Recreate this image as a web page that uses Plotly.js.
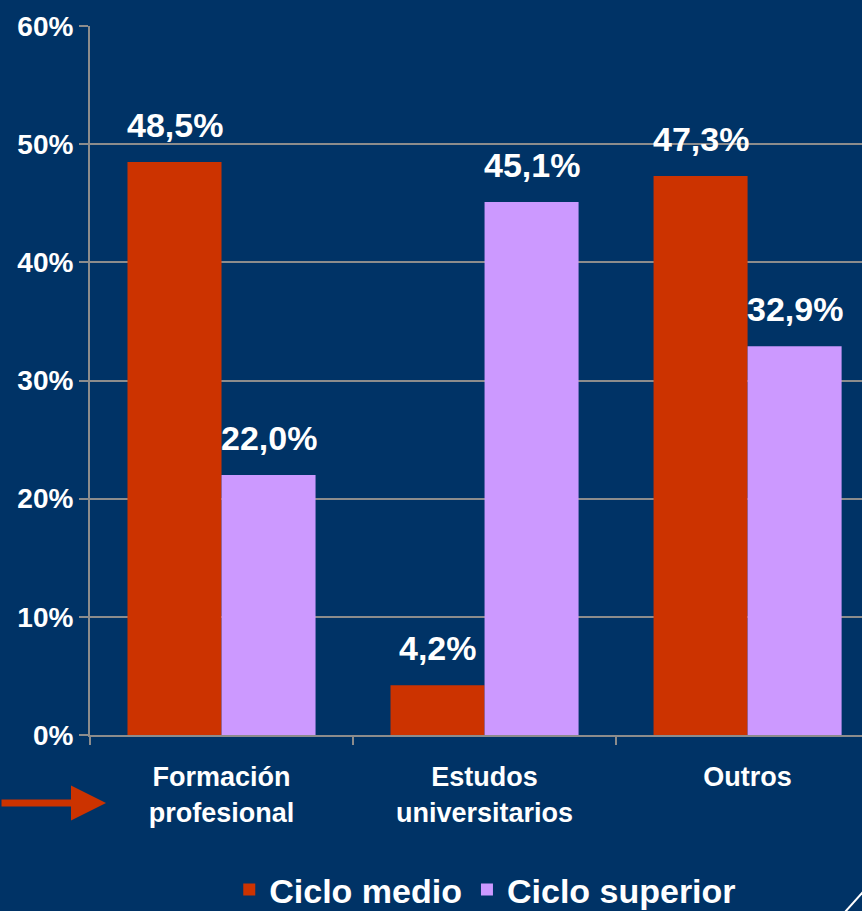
<!DOCTYPE html>
<html>
<head>
<meta charset="utf-8">
<script src="https://cdn.plot.ly/plotly-3.0.1.min.js"></script>
<style>html,body{margin:0;padding:0;background:#003366;overflow:hidden;}</style>
</head>
<body>
<div id="chart" style="width:862px;height:911px;"></div>
<script>
const categories = ["Formación<br>profesional", "Estudos<br>universitarios", "Outros"];
const cicloMedio = [48.5, 4.2, 47.3];
const cicloSuperior = [22.0, 45.1, 32.9];
const seriesNames = ["Ciclo medio", "Ciclo superior"];
const yTickVals = [0, 10, 20, 30, 40, 50, 60];
const yTickText = ["0%", "10%", "20%", "30%", "40%", "50%", "60%"];

const FONT = "Liberation Sans, Arial, sans-serif";
const RED = "#CC3300", LAV = "#CC99FF", BG = "#003366", GRID = "#8C8C8C";
const BARGAP = 0.285;
const off = (1 - BARGAP) / 4;
const fmt = v => v.toFixed(1).replace('.', ',') + '%';

const traces = [
  {type: 'bar', name: seriesNames[0], x: categories, y: cicloMedio, marker: {color: RED}, hoverinfo: 'none'},
  {type: 'bar', name: seriesNames[1], x: categories, y: cicloSuperior, marker: {color: LAV}, hoverinfo: 'none'}
];

const annotations = [];
[cicloMedio, cicloSuperior].forEach((arr, s) => {
  arr.forEach((v, i) => {
    annotations.push({
      x: i + (s === 0 ? -off : off), y: v, xref: 'x', yref: 'y',
      text: fmt(v), showarrow: false, yanchor: 'middle', yshift: 37,
      font: {family: FONT, size: 34, color: '#FFFFFF', weight: 'bold'}
    });
  });
});
// red arrow pointing at the first category label
annotations.push({
  xref: 'paper', yref: 'paper', x: (106 - 90) / 772, y: (735 - 803) / 709,
  ax: -114, ay: 0, text: '', showarrow: true, arrowhead: 2, arrowsize: 1.0,
  arrowwidth: 7, arrowcolor: RED, standoff: 0
});

const layout = {
  width: 862, height: 911,
  paper_bgcolor: BG, plot_bgcolor: BG,
  margin: {l: 90, r: 0, t: 26, b: 176, pad: 0},
  barmode: 'group', bargap: BARGAP, bargroupgap: 0,
  showlegend: true,
  legend: {
    orientation: 'h', x: 0.512, xanchor: 'center',
    yref: 'container', y: 21 / 911, yanchor: 'middle',
    font: {family: FONT, size: 34, color: '#FFFFFF', weight: 'bold'},
    bgcolor: 'rgba(0,0,0,0)', itemclick: false, itemdoubleclick: false,
    tracegroupgap: 0, borderwidth: 0
  },
  xaxis: {
    type: 'category', range: [-0.5, 2.435], tickson: 'boundaries',
    ticks: 'outside', ticklen: 8, tickwidth: 2, tickcolor: GRID,
    showline: true, linecolor: GRID, linewidth: 2,
    showgrid: false, zeroline: false, automargin: false,
    ticklabelstandoff: 17,
    tickfont: {family: FONT, size: 27, color: '#FFFFFF', weight: 'bold'},
    fixedrange: true
  },
  yaxis: {
    range: [0, 60], tickvals: yTickVals, ticktext: yTickText,
    ticks: 'outside', ticklen: 9, tickwidth: 2, tickcolor: GRID,
    showline: true, linecolor: GRID, linewidth: 2, automargin: false,
    showgrid: true, gridcolor: GRID, gridwidth: 2, zeroline: false,
    tickfont: {family: FONT, size: 28, color: '#FFFFFF', weight: 'bold'},
    fixedrange: true
  },
  annotations: annotations,
  shapes: [
    {type: 'line', xref: 'paper', yref: 'paper', x0: (845 - 90) / 772, y0: (735 - 912) / 709,
     x1: (863 - 90) / 772, y1: (735 - 892) / 709, line: {color: '#FFFFFF', width: 2}}
  ]
};

Plotly.newPlot('chart', traces, layout, {displayModeBar: false, staticPlot: true});
</script>
</body>
</html>
